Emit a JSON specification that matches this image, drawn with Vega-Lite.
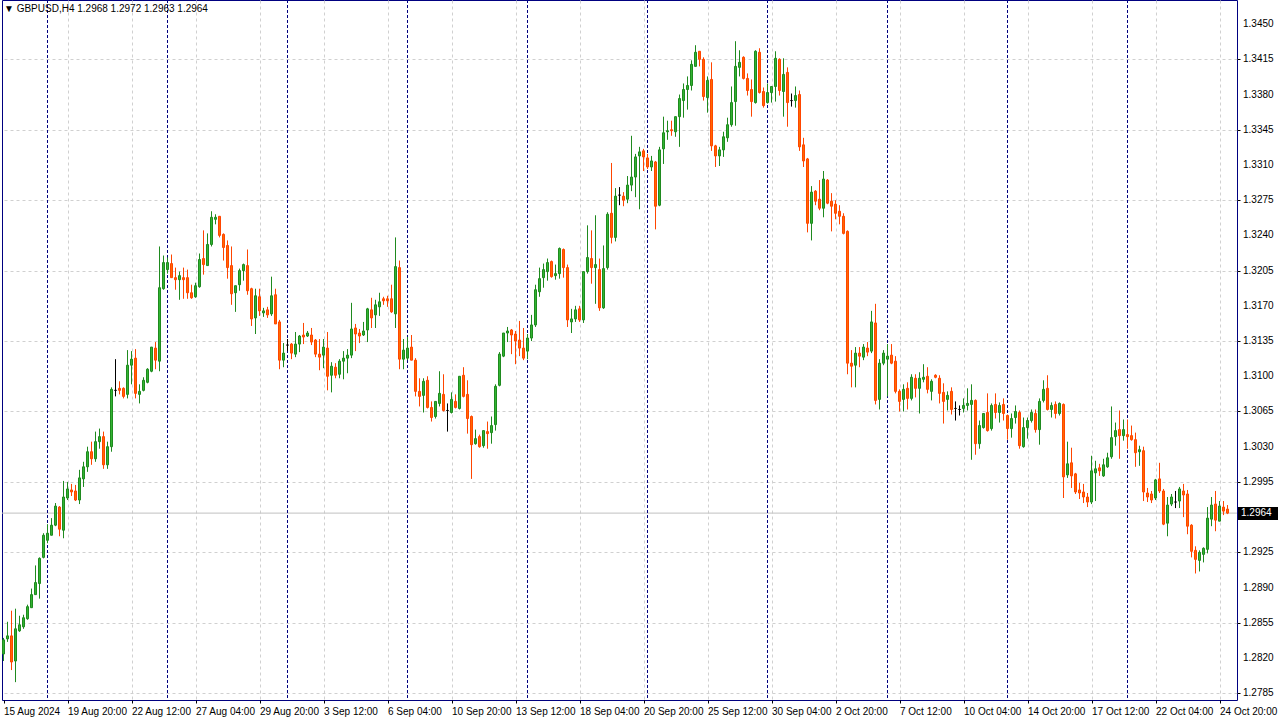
{
"$schema": "https://vega.github.io/schema/vega-lite/v6.json",
"width": 1235,
"height": 700,
"autosize": {"type": "none"},
"padding": {"left": 2, "top": 0, "right": 43, "bottom": 20},
"background": "#FFFFFF",
"title": {"text": "▼  GBPUSD,H4  1.2968 1.2972 1.2963 1.2964", "anchor": "start", "frame": "group", "offset": -14, "dx": 2, "font": "Liberation Sans", "fontSize": 10, "fontWeight": "normal", "color": "#000000"},
"config": {
  "view": {"stroke": "#000080", "strokeWidth": 1},
  "axis": {"labelFont": "Liberation Sans", "labelFontSize": 10, "labelColor": "#000000", "gridColor": "#D0D0D0", "gridDash": [3, 3], "gridWidth": 1, "domain": false, "tickColor": "#000000", "tickSize": 3, "title": null, "labelOverlap": false}
},
"datasets": {
  "weeks": [{"i": 11}, {"i": 41}, {"i": 71}, {"i": 101}, {"i": 131}, {"i": 161}, {"i": 191}, {"i": 221}, {"i": 251}, {"i": 281}],
  "levels": [{"p":1.2785,"t":"1.2785"},{"p":1.2820,"t":"1.2820"},{"p":1.2855,"t":"1.2855"},{"p":1.2890,"t":"1.2890"},{"p":1.2925,"t":"1.2925"},{"p":1.2995,"t":"1.2995"},{"p":1.3030,"t":"1.3030"},{"p":1.3065,"t":"1.3065"},{"p":1.3100,"t":"1.3100"},{"p":1.3135,"t":"1.3135"},{"p":1.3170,"t":"1.3170"},{"p":1.3205,"t":"1.3205"},{"p":1.3240,"t":"1.3240"},{"p":1.3275,"t":"1.3275"},{"p":1.3310,"t":"1.3310"},{"p":1.3345,"t":"1.3345"},{"p":1.3380,"t":"1.3380"},{"p":1.3415,"t":"1.3415"},{"p":1.3450,"t":"1.3450"}],
  "bid": [{"price": 1.2964, "label": "1.2964", "x0": 308.625, "x1": 318.625, "top": 1.29700, "bottom": 1.29572}],
  "bars": [
{"i":0,"o":1.2824,"h":1.2840,"l":1.2817,"c":1.2838},
{"i":1,"o":1.2839,"h":1.2856,"l":1.2836,"c":1.2842},
{"i":2,"o":1.2842,"h":1.2867,"l":1.2808,"c":1.2816},
{"i":3,"o":1.2817,"h":1.2869,"l":1.2796,"c":1.2849},
{"i":4,"o":1.2847,"h":1.2862,"l":1.2846,"c":1.2853},
{"i":5,"o":1.2851,"h":1.2863,"l":1.2849,"c":1.2860},
{"i":6,"o":1.2859,"h":1.2873,"l":1.2858,"c":1.2871},
{"i":7,"o":1.2870,"h":1.2889,"l":1.2870,"c":1.2883},
{"i":8,"o":1.2883,"h":1.2912,"l":1.2883,"c":1.2895},
{"i":9,"o":1.2894,"h":1.2920,"l":1.2879,"c":1.2919},
{"i":10,"o":1.2920,"h":1.2944,"l":1.2919,"c":1.2942},
{"i":11,"o":1.2937,"h":1.2953,"l":1.2934,"c":1.2944},
{"i":12,"o":1.2942,"h":1.2959,"l":1.2942,"c":1.2952},
{"i":13,"o":1.2952,"h":1.2974,"l":1.2951,"c":1.2971},
{"i":14,"o":1.2970,"h":1.2971,"l":1.2941,"c":1.2948},
{"i":15,"o":1.2947,"h":1.2996,"l":1.2939,"c":1.2980},
{"i":16,"o":1.2979,"h":1.2995,"l":1.2977,"c":1.2988},
{"i":17,"o":1.2987,"h":1.2993,"l":1.2981,"c":1.2985},
{"i":18,"o":1.2986,"h":1.2992,"l":1.2976,"c":1.2977},
{"i":19,"o":1.2977,"h":1.3007,"l":1.2973,"c":1.2999},
{"i":20,"o":1.2998,"h":1.3015,"l":1.2990,"c":1.3010},
{"i":21,"o":1.3010,"h":1.3030,"l":1.3005,"c":1.3025},
{"i":22,"o":1.3025,"h":1.3035,"l":1.3012,"c":1.3018},
{"i":23,"o":1.3018,"h":1.3045,"l":1.3015,"c":1.3035},
{"i":24,"o":1.3035,"h":1.3048,"l":1.3028,"c":1.3040},
{"i":25,"o":1.3040,"h":1.3045,"l":1.3008,"c":1.3012},
{"i":26,"o":1.3012,"h":1.3035,"l":1.3008,"c":1.3030},
{"i":27,"o":1.3030,"h":1.3089,"l":1.3025,"c":1.3087},
{"i":28,"o":1.3086,"h":1.3117,"l":1.3080,"c":1.3086},
{"i":29,"o":1.3088,"h":1.3095,"l":1.3082,"c":1.3086},
{"i":30,"o":1.3088,"h":1.3089,"l":1.3078,"c":1.3080},
{"i":31,"o":1.3082,"h":1.3126,"l":1.3078,"c":1.3111},
{"i":32,"o":1.3111,"h":1.3125,"l":1.3092,"c":1.3117},
{"i":33,"o":1.3118,"h":1.3127,"l":1.3078,"c":1.3083},
{"i":34,"o":1.3082,"h":1.3092,"l":1.3073,"c":1.3085},
{"i":35,"o":1.3086,"h":1.3099,"l":1.3085,"c":1.3096},
{"i":36,"o":1.3094,"h":1.3108,"l":1.3093,"c":1.3107},
{"i":37,"o":1.3105,"h":1.3129,"l":1.3104,"c":1.3129},
{"i":38,"o":1.3128,"h":1.3134,"l":1.3107,"c":1.3116},
{"i":39,"o":1.3115,"h":1.3229,"l":1.3105,"c":1.3188},
{"i":40,"o":1.3187,"h":1.3220,"l":1.3186,"c":1.3213},
{"i":41,"o":1.3206,"h":1.3218,"l":1.3202,"c":1.3213},
{"i":42,"o":1.3212,"h":1.3221,"l":1.3198,"c":1.3198},
{"i":43,"o":1.3198,"h":1.3208,"l":1.3186,"c":1.3196},
{"i":44,"o":1.3196,"h":1.3204,"l":1.3176,"c":1.3200},
{"i":45,"o":1.3198,"h":1.3208,"l":1.3177,"c":1.3196},
{"i":46,"o":1.3198,"h":1.3206,"l":1.3177,"c":1.3183},
{"i":47,"o":1.3183,"h":1.3191,"l":1.3177,"c":1.3178},
{"i":48,"o":1.3179,"h":1.3193,"l":1.3178,"c":1.3190},
{"i":49,"o":1.3189,"h":1.3222,"l":1.3188,"c":1.3216},
{"i":50,"o":1.3217,"h":1.3245,"l":1.3201,"c":1.3211},
{"i":51,"o":1.3210,"h":1.3242,"l":1.3210,"c":1.3231},
{"i":52,"o":1.3231,"h":1.3264,"l":1.3229,"c":1.3258},
{"i":53,"o":1.3256,"h":1.3261,"l":1.3251,"c":1.3258},
{"i":54,"o":1.3259,"h":1.3259,"l":1.3238,"c":1.3240},
{"i":55,"o":1.3241,"h":1.3242,"l":1.3215,"c":1.3228},
{"i":56,"o":1.3230,"h":1.3235,"l":1.3197,"c":1.3208},
{"i":57,"o":1.3210,"h":1.3229,"l":1.3171,"c":1.3182},
{"i":58,"o":1.3183,"h":1.3190,"l":1.3164,"c":1.3190},
{"i":59,"o":1.3191,"h":1.3207,"l":1.3185,"c":1.3205},
{"i":60,"o":1.3205,"h":1.3212,"l":1.3195,"c":1.3211},
{"i":61,"o":1.3210,"h":1.3226,"l":1.3181,"c":1.3185},
{"i":62,"o":1.3187,"h":1.3188,"l":1.3150,"c":1.3157},
{"i":63,"o":1.3158,"h":1.3187,"l":1.3142,"c":1.3180},
{"i":64,"o":1.3179,"h":1.3187,"l":1.3160,"c":1.3165},
{"i":65,"o":1.3163,"h":1.3168,"l":1.3159,"c":1.3165},
{"i":66,"o":1.3166,"h":1.3169,"l":1.3158,"c":1.3161},
{"i":67,"o":1.3162,"h":1.3199,"l":1.3160,"c":1.3180},
{"i":68,"o":1.3181,"h":1.3187,"l":1.3152,"c":1.3152},
{"i":69,"o":1.3154,"h":1.3156,"l":1.3107,"c":1.3116},
{"i":70,"o":1.3116,"h":1.3133,"l":1.3109,"c":1.3123},
{"i":71,"o":1.3131,"h":1.3137,"l":1.3125,"c":1.3131},
{"i":72,"o":1.3132,"h":1.3133,"l":1.3117,"c":1.3123},
{"i":73,"o":1.3122,"h":1.3144,"l":1.3119,"c":1.3132},
{"i":74,"o":1.3132,"h":1.3141,"l":1.3124,"c":1.3140},
{"i":75,"o":1.3141,"h":1.3153,"l":1.3132,"c":1.3139},
{"i":76,"o":1.3140,"h":1.3145,"l":1.3139,"c":1.3143},
{"i":77,"o":1.3141,"h":1.3148,"l":1.3131,"c":1.3134},
{"i":78,"o":1.3136,"h":1.3137,"l":1.3119,"c":1.3122},
{"i":79,"o":1.3122,"h":1.3137,"l":1.3106,"c":1.3119},
{"i":80,"o":1.3121,"h":1.3137,"l":1.3108,"c":1.3129},
{"i":81,"o":1.3128,"h":1.3144,"l":1.3086,"c":1.3100},
{"i":82,"o":1.3101,"h":1.3114,"l":1.3084,"c":1.3110},
{"i":83,"o":1.3109,"h":1.3113,"l":1.3098,"c":1.3101},
{"i":84,"o":1.3102,"h":1.3117,"l":1.3098,"c":1.3115},
{"i":85,"o":1.3115,"h":1.3125,"l":1.3097,"c":1.3118},
{"i":86,"o":1.3118,"h":1.3127,"l":1.3103,"c":1.3121},
{"i":87,"o":1.3121,"h":1.3173,"l":1.3118,"c":1.3147},
{"i":88,"o":1.3148,"h":1.3152,"l":1.3125,"c":1.3142},
{"i":89,"o":1.3143,"h":1.3147,"l":1.3133,"c":1.3140},
{"i":90,"o":1.3141,"h":1.3154,"l":1.3140,"c":1.3145},
{"i":91,"o":1.3146,"h":1.3168,"l":1.3134,"c":1.3167},
{"i":92,"o":1.3166,"h":1.3178,"l":1.3148,"c":1.3158},
{"i":93,"o":1.3161,"h":1.3176,"l":1.3148,"c":1.3171},
{"i":94,"o":1.3169,"h":1.3183,"l":1.3160,"c":1.3174},
{"i":95,"o":1.3177,"h":1.3179,"l":1.3171,"c":1.3175},
{"i":96,"o":1.3177,"h":1.3180,"l":1.3169,"c":1.3175},
{"i":97,"o":1.3177,"h":1.3191,"l":1.3163,"c":1.3164},
{"i":98,"o":1.3162,"h":1.3238,"l":1.3148,"c":1.3209},
{"i":99,"o":1.3208,"h":1.3215,"l":1.3107,"c":1.3117},
{"i":100,"o":1.3117,"h":1.3137,"l":1.3107,"c":1.3126},
{"i":101,"o":1.3118,"h":1.3139,"l":1.3116,"c":1.3128},
{"i":102,"o":1.3129,"h":1.3141,"l":1.3116,"c":1.3116},
{"i":103,"o":1.3116,"h":1.3118,"l":1.3080,"c":1.3085},
{"i":104,"o":1.3085,"h":1.3098,"l":1.3070,"c":1.3080},
{"i":105,"o":1.3081,"h":1.3098,"l":1.3064,"c":1.3095},
{"i":106,"o":1.3096,"h":1.3100,"l":1.3068,"c":1.3069},
{"i":107,"o":1.3069,"h":1.3075,"l":1.3055,"c":1.3059},
{"i":108,"o":1.3060,"h":1.3075,"l":1.3058,"c":1.3075},
{"i":109,"o":1.3073,"h":1.3105,"l":1.3070,"c":1.3083},
{"i":110,"o":1.3082,"h":1.3102,"l":1.3065,"c":1.3066},
{"i":111,"o":1.3066,"h":1.3073,"l":1.3045,"c":1.3066},
{"i":112,"o":1.3064,"h":1.3084,"l":1.3063,"c":1.3077},
{"i":113,"o":1.3075,"h":1.3082,"l":1.3068,"c":1.3069},
{"i":114,"o":1.3068,"h":1.3100,"l":1.3067,"c":1.3100},
{"i":115,"o":1.3101,"h":1.3109,"l":1.3079,"c":1.3080},
{"i":116,"o":1.3082,"h":1.3096,"l":1.3043,"c":1.3058},
{"i":117,"o":1.3060,"h":1.3061,"l":1.2998,"c":1.3032},
{"i":118,"o":1.3033,"h":1.3047,"l":1.3032,"c":1.3038},
{"i":119,"o":1.3040,"h":1.3042,"l":1.3029,"c":1.3030},
{"i":120,"o":1.3031,"h":1.3046,"l":1.3029,"c":1.3046},
{"i":121,"o":1.3045,"h":1.3055,"l":1.3028,"c":1.3043},
{"i":122,"o":1.3044,"h":1.3060,"l":1.3033,"c":1.3051},
{"i":123,"o":1.3052,"h":1.3092,"l":1.3046,"c":1.3090},
{"i":124,"o":1.3091,"h":1.3124,"l":1.3090,"c":1.3122},
{"i":125,"o":1.3120,"h":1.3143,"l":1.3119,"c":1.3143},
{"i":126,"o":1.3143,"h":1.3149,"l":1.3134,"c":1.3145},
{"i":127,"o":1.3146,"h":1.3147,"l":1.3122,"c":1.3141},
{"i":128,"o":1.3142,"h":1.3145,"l":1.3112,"c":1.3135},
{"i":129,"o":1.3136,"h":1.3155,"l":1.3120,"c":1.3128},
{"i":130,"o":1.3128,"h":1.3148,"l":1.3116,"c":1.3118},
{"i":131,"o":1.3125,"h":1.3142,"l":1.3117,"c":1.3138},
{"i":132,"o":1.3138,"h":1.3161,"l":1.3135,"c":1.3151},
{"i":133,"o":1.3151,"h":1.3191,"l":1.3149,"c":1.3186},
{"i":134,"o":1.3184,"h":1.3208,"l":1.3179,"c":1.3197},
{"i":135,"o":1.3198,"h":1.3212,"l":1.3188,"c":1.3206},
{"i":136,"o":1.3204,"h":1.3217,"l":1.3195,"c":1.3213},
{"i":137,"o":1.3214,"h":1.3215,"l":1.3198,"c":1.3199},
{"i":138,"o":1.3200,"h":1.3211,"l":1.3196,"c":1.3202},
{"i":139,"o":1.3202,"h":1.3228,"l":1.3197,"c":1.3227},
{"i":140,"o":1.3226,"h":1.3227,"l":1.3198,"c":1.3208},
{"i":141,"o":1.3208,"h":1.3211,"l":1.3149,"c":1.3156},
{"i":142,"o":1.3154,"h":1.3167,"l":1.3143,"c":1.3157},
{"i":143,"o":1.3157,"h":1.3170,"l":1.3154,"c":1.3166},
{"i":144,"o":1.3167,"h":1.3170,"l":1.3154,"c":1.3156},
{"i":145,"o":1.3156,"h":1.3204,"l":1.3153,"c":1.3204},
{"i":146,"o":1.3204,"h":1.3250,"l":1.3202,"c":1.3218},
{"i":147,"o":1.3217,"h":1.3245,"l":1.3192,"c":1.3208},
{"i":148,"o":1.3208,"h":1.3260,"l":1.3172,"c":1.3211},
{"i":149,"o":1.3206,"h":1.3217,"l":1.3165,"c":1.3168},
{"i":150,"o":1.3168,"h":1.3230,"l":1.3167,"c":1.3207},
{"i":151,"o":1.3208,"h":1.3263,"l":1.3206,"c":1.3261},
{"i":152,"o":1.3262,"h":1.3312,"l":1.3232,"c":1.3238},
{"i":153,"o":1.3238,"h":1.3287,"l":1.3234,"c":1.3279},
{"i":154,"o":1.3280,"h":1.3288,"l":1.3270,"c":1.3280},
{"i":155,"o":1.3279,"h":1.3283,"l":1.3269,"c":1.3275},
{"i":156,"o":1.3276,"h":1.3299,"l":1.3272,"c":1.3290},
{"i":157,"o":1.3290,"h":1.3339,"l":1.3284,"c":1.3298},
{"i":158,"o":1.3298,"h":1.3321,"l":1.3278,"c":1.3318},
{"i":159,"o":1.3319,"h":1.3328,"l":1.3266,"c":1.3323},
{"i":160,"o":1.3324,"h":1.3326,"l":1.3304,"c":1.3318},
{"i":161,"o":1.3317,"h":1.3321,"l":1.3306,"c":1.3308},
{"i":162,"o":1.3308,"h":1.3319,"l":1.3304,"c":1.3314},
{"i":163,"o":1.3313,"h":1.3314,"l":1.3246,"c":1.3269},
{"i":164,"o":1.3270,"h":1.3328,"l":1.3269,"c":1.3325},
{"i":165,"o":1.3326,"h":1.3358,"l":1.3311,"c":1.3342},
{"i":166,"o":1.3343,"h":1.3354,"l":1.3335,"c":1.3344},
{"i":167,"o":1.3345,"h":1.3354,"l":1.3339,"c":1.3344},
{"i":168,"o":1.3343,"h":1.3358,"l":1.3338,"c":1.3358},
{"i":169,"o":1.3358,"h":1.3380,"l":1.3328,"c":1.3376},
{"i":170,"o":1.3374,"h":1.3391,"l":1.3357,"c":1.3385},
{"i":171,"o":1.3385,"h":1.3398,"l":1.3365,"c":1.3389},
{"i":172,"o":1.3389,"h":1.3414,"l":1.3384,"c":1.3410},
{"i":173,"o":1.3408,"h":1.3429,"l":1.3408,"c":1.3422},
{"i":174,"o":1.3423,"h":1.3423,"l":1.3408,"c":1.3415},
{"i":175,"o":1.3415,"h":1.3417,"l":1.3374,"c":1.3378},
{"i":176,"o":1.3377,"h":1.3398,"l":1.3362,"c":1.3394},
{"i":177,"o":1.3395,"h":1.3412,"l":1.3324,"c":1.3329},
{"i":178,"o":1.3329,"h":1.3330,"l":1.3308,"c":1.3319},
{"i":179,"o":1.3319,"h":1.3328,"l":1.3309,"c":1.3325},
{"i":180,"o":1.3325,"h":1.3343,"l":1.3318,"c":1.3338},
{"i":181,"o":1.3337,"h":1.3357,"l":1.3333,"c":1.3350},
{"i":182,"o":1.3350,"h":1.3388,"l":1.3348,"c":1.3372},
{"i":183,"o":1.3373,"h":1.3433,"l":1.3349,"c":1.3408},
{"i":184,"o":1.3407,"h":1.3424,"l":1.3398,"c":1.3412},
{"i":185,"o":1.3417,"h":1.3418,"l":1.3395,"c":1.3396},
{"i":186,"o":1.3396,"h":1.3401,"l":1.3379,"c":1.3384},
{"i":187,"o":1.3385,"h":1.3395,"l":1.3358,"c":1.3373},
{"i":188,"o":1.3372,"h":1.3424,"l":1.3371,"c":1.3423},
{"i":189,"o":1.3422,"h":1.3426,"l":1.3381,"c":1.3382},
{"i":190,"o":1.3383,"h":1.3387,"l":1.3367,"c":1.3369},
{"i":191,"o":1.3372,"h":1.3391,"l":1.3371,"c":1.3382},
{"i":192,"o":1.3382,"h":1.3388,"l":1.3372,"c":1.3388},
{"i":193,"o":1.3388,"h":1.3423,"l":1.3373,"c":1.3416},
{"i":194,"o":1.3415,"h":1.3416,"l":1.3379,"c":1.3384},
{"i":195,"o":1.3383,"h":1.3416,"l":1.3358,"c":1.3400},
{"i":196,"o":1.3402,"h":1.3407,"l":1.3348,"c":1.3372},
{"i":197,"o":1.3374,"h":1.3381,"l":1.3368,"c":1.3374},
{"i":198,"o":1.3374,"h":1.3388,"l":1.3367,"c":1.3379},
{"i":199,"o":1.3380,"h":1.3384,"l":1.3324,"c":1.3328},
{"i":200,"o":1.3330,"h":1.3337,"l":1.3308,"c":1.3314},
{"i":201,"o":1.3316,"h":1.3317,"l":1.3243,"c":1.3252},
{"i":202,"o":1.3252,"h":1.3289,"l":1.3235,"c":1.3283},
{"i":203,"o":1.3284,"h":1.3285,"l":1.3270,"c":1.3274},
{"i":204,"o":1.3276,"h":1.3295,"l":1.3265,"c":1.3267},
{"i":205,"o":1.3267,"h":1.3304,"l":1.3258,"c":1.3296},
{"i":206,"o":1.3295,"h":1.3296,"l":1.3271,"c":1.3272},
{"i":207,"o":1.3274,"h":1.3282,"l":1.3244,"c":1.3269},
{"i":208,"o":1.3271,"h":1.3275,"l":1.3256,"c":1.3262},
{"i":209,"o":1.3264,"h":1.3270,"l":1.3251,"c":1.3259},
{"i":210,"o":1.3259,"h":1.3262,"l":1.3241,"c":1.3242},
{"i":211,"o":1.3244,"h":1.3245,"l":1.3102,"c":1.3113},
{"i":212,"o":1.3113,"h":1.3126,"l":1.3089,"c":1.3110},
{"i":213,"o":1.3111,"h":1.3129,"l":1.3089,"c":1.3123},
{"i":214,"o":1.3123,"h":1.3129,"l":1.3109,"c":1.3120},
{"i":215,"o":1.3119,"h":1.3132,"l":1.3116,"c":1.3129},
{"i":216,"o":1.3128,"h":1.3134,"l":1.3120,"c":1.3124},
{"i":217,"o":1.3125,"h":1.3165,"l":1.3123,"c":1.3154},
{"i":218,"o":1.3153,"h":1.3172,"l":1.3072,"c":1.3076},
{"i":219,"o":1.3077,"h":1.3117,"l":1.3067,"c":1.3113},
{"i":220,"o":1.3113,"h":1.3126,"l":1.3111,"c":1.3123},
{"i":221,"o":1.3117,"h":1.3132,"l":1.3080,"c":1.3120},
{"i":222,"o":1.3121,"h":1.3132,"l":1.3112,"c":1.3113},
{"i":223,"o":1.3115,"h":1.3120,"l":1.3083,"c":1.3085},
{"i":224,"o":1.3085,"h":1.3087,"l":1.3065,"c":1.3075},
{"i":225,"o":1.3077,"h":1.3092,"l":1.3065,"c":1.3087},
{"i":226,"o":1.3088,"h":1.3094,"l":1.3067,"c":1.3078},
{"i":227,"o":1.3078,"h":1.3102,"l":1.3076,"c":1.3099},
{"i":228,"o":1.3098,"h":1.3102,"l":1.3079,"c":1.3088},
{"i":229,"o":1.3088,"h":1.3104,"l":1.3063,"c":1.3098},
{"i":230,"o":1.3097,"h":1.3112,"l":1.3094,"c":1.3099},
{"i":231,"o":1.3100,"h":1.3109,"l":1.3083,"c":1.3087},
{"i":232,"o":1.3085,"h":1.3097,"l":1.3076,"c":1.3095},
{"i":233,"o":1.3101,"h":1.3102,"l":1.3098,"c":1.3099},
{"i":234,"o":1.3098,"h":1.3101,"l":1.3073,"c":1.3083},
{"i":235,"o":1.3084,"h":1.3093,"l":1.3053,"c":1.3075},
{"i":236,"o":1.3077,"h":1.3085,"l":1.3066,"c":1.3081},
{"i":237,"o":1.3085,"h":1.3089,"l":1.3062,"c":1.3067},
{"i":238,"o":1.3068,"h":1.3075,"l":1.3056,"c":1.3068},
{"i":239,"o":1.3067,"h":1.3071,"l":1.3061,"c":1.3067},
{"i":240,"o":1.3068,"h":1.3078,"l":1.3064,"c":1.3071},
{"i":241,"o":1.3071,"h":1.3088,"l":1.3066,"c":1.3073},
{"i":242,"o":1.3072,"h":1.3092,"l":1.3017,"c":1.3076},
{"i":243,"o":1.3076,"h":1.3077,"l":1.3022,"c":1.3033},
{"i":244,"o":1.3033,"h":1.3056,"l":1.3028,"c":1.3051},
{"i":245,"o":1.3049,"h":1.3063,"l":1.3048,"c":1.3063},
{"i":246,"o":1.3064,"h":1.3083,"l":1.3045,"c":1.3046},
{"i":247,"o":1.3048,"h":1.3073,"l":1.3046,"c":1.3071},
{"i":248,"o":1.3072,"h":1.3083,"l":1.3058,"c":1.3064},
{"i":249,"o":1.3064,"h":1.3074,"l":1.3054,"c":1.3071},
{"i":250,"o":1.3072,"h":1.3078,"l":1.3056,"c":1.3063},
{"i":251,"o":1.3061,"h":1.3062,"l":1.3037,"c":1.3048},
{"i":252,"o":1.3048,"h":1.3063,"l":1.3039,"c":1.3058},
{"i":253,"o":1.3059,"h":1.3071,"l":1.3053,"c":1.3065},
{"i":254,"o":1.3064,"h":1.3066,"l":1.3028,"c":1.3031},
{"i":255,"o":1.3030,"h":1.3059,"l":1.3029,"c":1.3049},
{"i":256,"o":1.3049,"h":1.3059,"l":1.3038,"c":1.3056},
{"i":257,"o":1.3056,"h":1.3067,"l":1.3054,"c":1.3064},
{"i":258,"o":1.3063,"h":1.3067,"l":1.3044,"c":1.3047},
{"i":259,"o":1.3047,"h":1.3078,"l":1.3032,"c":1.3075},
{"i":260,"o":1.3076,"h":1.3096,"l":1.3074,"c":1.3087},
{"i":261,"o":1.3088,"h":1.3101,"l":1.3066,"c":1.3067},
{"i":262,"o":1.3067,"h":1.3074,"l":1.3059,"c":1.3071},
{"i":263,"o":1.3072,"h":1.3075,"l":1.3058,"c":1.3063},
{"i":264,"o":1.3063,"h":1.3074,"l":1.3061,"c":1.3073},
{"i":265,"o":1.3072,"h":1.3073,"l":1.2979,"c":1.3000},
{"i":266,"o":1.3002,"h":1.3035,"l":1.2999,"c":1.3013},
{"i":267,"o":1.3014,"h":1.3029,"l":1.2989,"c":1.3001},
{"i":268,"o":1.3003,"h":1.3004,"l":1.2983,"c":1.2985},
{"i":269,"o":1.2987,"h":1.2994,"l":1.2978,"c":1.2984},
{"i":270,"o":1.2985,"h":1.2993,"l":1.2974,"c":1.2980},
{"i":271,"o":1.2980,"h":1.2984,"l":1.2970,"c":1.2975},
{"i":272,"o":1.2975,"h":1.3021,"l":1.2973,"c":1.3006},
{"i":273,"o":1.3004,"h":1.3016,"l":1.2976,"c":1.3008},
{"i":274,"o":1.3009,"h":1.3013,"l":1.3001,"c":1.3006},
{"i":275,"o":1.3001,"h":1.3018,"l":1.3000,"c":1.3012},
{"i":276,"o":1.3010,"h":1.3024,"l":1.3009,"c":1.3019},
{"i":277,"o":1.3020,"h":1.3070,"l":1.3018,"c":1.3039},
{"i":278,"o":1.3040,"h":1.3054,"l":1.3031,"c":1.3046},
{"i":279,"o":1.3047,"h":1.3066,"l":1.3018,"c":1.3041},
{"i":280,"o":1.3041,"h":1.3057,"l":1.3036,"c":1.3047},
{"i":281,"o":1.3042,"h":1.3057,"l":1.3028,"c":1.3040},
{"i":282,"o":1.3041,"h":1.3051,"l":1.3036,"c":1.3037},
{"i":283,"o":1.3037,"h":1.3044,"l":1.3010,"c":1.3024},
{"i":284,"o":1.3025,"h":1.3031,"l":1.3011,"c":1.3027},
{"i":285,"o":1.3026,"h":1.3030,"l":1.2976,"c":1.2985},
{"i":286,"o":1.2984,"h":1.2989,"l":1.2975,"c":1.2980},
{"i":287,"o":1.2983,"h":1.2986,"l":1.2974,"c":1.2977},
{"i":288,"o":1.2979,"h":1.2998,"l":1.2977,"c":1.2997},
{"i":289,"o":1.2998,"h":1.3014,"l":1.2984,"c":1.2986},
{"i":290,"o":1.2986,"h":1.2988,"l":1.2952,"c":1.2953},
{"i":291,"o":1.2954,"h":1.2980,"l":1.2941,"c":1.2972},
{"i":292,"o":1.2973,"h":1.2983,"l":1.2971,"c":1.2980},
{"i":293,"o":1.2975,"h":1.2986,"l":1.2969,"c":1.2975},
{"i":294,"o":1.2976,"h":1.2990,"l":1.2969,"c":1.2988},
{"i":295,"o":1.2986,"h":1.2993,"l":1.2960,"c":1.2982},
{"i":296,"o":1.2983,"h":1.2987,"l":1.2943,"c":1.2951},
{"i":297,"o":1.2952,"h":1.2953,"l":1.2920,"c":1.2926},
{"i":298,"o":1.2927,"h":1.2931,"l":1.2904,"c":1.2918},
{"i":299,"o":1.2917,"h":1.2927,"l":1.2906,"c":1.2925},
{"i":300,"o":1.2923,"h":1.2930,"l":1.2915,"c":1.2929},
{"i":301,"o":1.2928,"h":1.2970,"l":1.2924,"c":1.2959},
{"i":302,"o":1.2958,"h":1.2980,"l":1.2951,"c":1.2972},
{"i":303,"o":1.2973,"h":1.2986,"l":1.2946,"c":1.2957},
{"i":304,"o":1.2956,"h":1.2976,"l":1.2956,"c":1.2971},
{"i":305,"o":1.2970,"h":1.2976,"l":1.2962,"c":1.2966},
{"i":306,"o":1.2968,"h":1.2972,"l":1.2963,"c":1.2964}
  ]
},
"layer": [
  {
    "data": {"name": "bars"},
    "mark": {"type": "rule", "opacity": 0},
    "encoding": {
      "x": {"field": "i", "type": "quantitative",
        "scale": {"domain": [-0.375, 308.375], "nice": false, "zero": false, "padding": 0},
        "axis": {"orient": "bottom", "values": [0,8,16,24,32,40,48,56,64,72,80,88,96,104,112,120,128,136,144,152,160,168,176,184,192,200,208,216,224,232,240,248,256,264,272,280,288,296,304],
          "labelExpr": "datum.value % 16 == 0 ? ['15 Aug 2024','19 Aug 20:00','22 Aug 12:00','27 Aug 04:00','29 Aug 20:00','3 Sep 12:00','6 Sep 04:00','10 Sep 20:00','13 Sep 12:00','18 Sep 04:00','20 Sep 20:00','25 Sep 12:00','30 Sep 04:00','2 Oct 20:00','7 Oct 12:00','10 Oct 04:00','14 Oct 20:00','17 Oct 12:00','22 Oct 04:00','24 Oct 20:00'][datum.value / 16] : ''",
          "labelAlign": "left", "labelBaseline": "top", "labelPadding": 3, "labelOverlap": false, "labelFlush": false, "labelBound": false,
          "gridOpacity": {"condition": {"test": "datum.value == 0", "value": 0}, "value": 1},
          "tickOpacity": {"condition": {"test": "datum.value % 16 == 0", "value": 1}, "value": 0}}},
      "y": {"field": "l", "type": "quantitative",
        "scale": {"domain": [1.2778258, 1.3473952], "nice": false, "zero": false, "padding": 0},
        "axis": {"orient": "right", "values": [1.2785,1.2820,1.2855,1.2890,1.2925,1.2960,1.2995,1.3030,1.3065,1.3100,1.3135,1.3170,1.3205,1.3240,1.3275,1.3310,1.3345,1.3380,1.3415,1.3450],
          "labels": false}},
      "y2": {"field": "h"}
    }
  },
  {
    "data": {"name": "levels"},
    "mark": {"type": "text", "color": "#000000", "font": "Liberation Sans", "fontSize": 10, "align": "left", "baseline": "middle", "dx": 6},
    "encoding": {"x": {"datum": 308.375}, "y": {"field": "p", "type": "quantitative"}, "text": {"field": "t"}}
  },
  {
    "data": {"name": "bid"},
    "mark": {"type": "rule", "color": "#C0C0C0", "strokeWidth": 1},
    "encoding": {"y": {"field": "price", "type": "quantitative"}}
  },
  {
    "data": {"name": "weeks"},
    "mark": {"type": "rule", "color": "#000080", "strokeWidth": 1, "strokeDash": [3, 2]},
    "encoding": {"x": {"field": "i", "type": "quantitative"}}
  },
  {
    "data": {"name": "bars"},
    "mark": {"type": "rule", "strokeWidth": 1},
    "encoding": {
      "x": {"field": "i", "type": "quantitative"},
      "y": {"field": "l", "type": "quantitative"},
      "y2": {"field": "h"},
      "color": {"condition": [{"test": "datum.c > datum.o", "value": "#1F8A1F"}, {"test": "datum.c < datum.o", "value": "#FF4500"}], "value": "#000000"}
    }
  },
  {
    "data": {"name": "bars"},
    "mark": {"type": "bar", "width": 2, "strokeWidth": 1},
    "encoding": {
      "x": {"field": "i", "type": "quantitative"},
      "y": {"field": "o", "type": "quantitative"},
      "y2": {"field": "c"},
      "fill": {"condition": [{"test": "datum.c > datum.o", "value": "#32B432"}, {"test": "datum.c < datum.o", "value": "#FF6A00"}], "value": "#000000"},
      "stroke": {"condition": [{"test": "datum.c > datum.o", "value": "#1F8A1F"}, {"test": "datum.c < datum.o", "value": "#FF4500"}], "value": "#000000"}
    }
  },
  {
    "data": {"name": "bid"},
    "mark": {"type": "rect", "color": "#000000"},
    "encoding": {"x": {"field": "x0", "type": "quantitative"}, "x2": {"field": "x1"}, "y": {"field": "top", "type": "quantitative"}, "y2": {"field": "bottom"}}
  },
  {
    "data": {"name": "bid"},
    "mark": {"type": "text", "color": "#FFFFFF", "font": "Liberation Sans", "fontSize": 10, "align": "left", "baseline": "middle", "dx": 3},
    "encoding": {"x": {"field": "x0", "type": "quantitative"}, "y": {"field": "price", "type": "quantitative"}, "text": {"field": "label"}}
  }
]
}
